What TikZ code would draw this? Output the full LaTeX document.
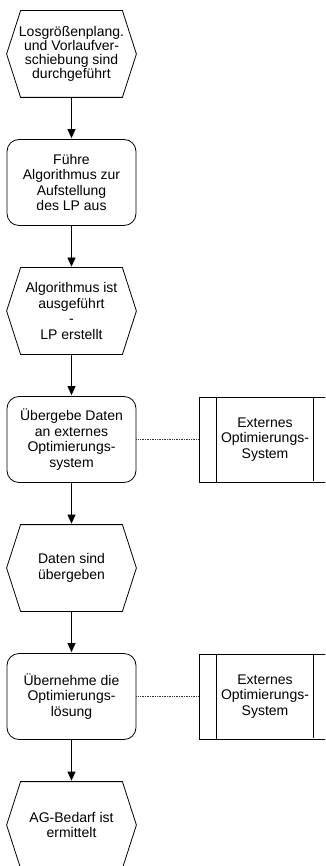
\documentclass[tikz,border=0pt]{standalone}
\usepackage{fontspec}
\setmainfont{Liberation Sans}
\usetikzlibrary{
        arrows.meta,
        positioning
    }
\tikzset{>={Triangle[length=9pt,width=8pt]},shorten >=1pt,auto,node distance=128.5pt}

\begin{document}
\begin{tikzpicture}[x=1pt,y=-1pt,line width=0.8pt,
        every node/.style={font=\fontsize{14}{15.5}\selectfont,align=center}]
                \tikzset{event/.style={rectangle,minimum width=129pt,minimum height=86pt,inner sep=0pt}}
                \tikzset{function/.style={draw,rectangle,rounded corners=12pt,minimum width=129pt,minimum height=86pt,inner sep=0pt}}
                \tikzset{system/.style={draw,rectangle,minimum width=132pt,minimum height=85pt,inner sep=0pt}}
                \tikzset{link/.style={dash pattern=on 1pt off 0.7pt,black!80,shorten >=0pt}}
                \clip (0,0) rectangle (325,866);
                \node[event,font=\fontsize{14}{14}\selectfont] (e1) at (71.5,54) {Losgrößenplang.\\und Vorlaufver-\\schiebung sind\\durchgeführt};
                \node[function] (f1) [below of=e1] {Führe\\Algorithmus zur\\Aufstellung\\des LP aus};
                \node[event] (e2) [below of=f1] {Algorithmus ist\\ausgeführt\\-\\LP erstellt};
                \node[function] (f2) [below of=e2] {Übergebe Daten\\an externes\\Optimierungs-\\system};
                \node[system] (x1) [right of=f2,node distance=193.5pt] {Externes\\Optimierungs-\\System};
                \node[event] (e3) [below of=f2] {Daten sind\\übergeben};
                \node[function] (f3) [below of=e3] {Übernehme die\\Optimierungs-\\lösung};
                \node[system] (x2) [right of=f3,node distance=193.5pt] {Externes\\Optimierungs-\\System};
                \node[event] (e4) [below of=f3] {AG-Bedarf ist\\ermittelt};
                % event hexagons
                \foreach \n in {e1,e2,e3,e4}
                    \draw ([xshift=14pt]\n.north west) -- ([xshift=-14pt]\n.north east) -- (\n.east)
                        -- ([xshift=-14pt]\n.south east) -- ([xshift=14pt]\n.south west) -- (\n.west) -- cycle;
                % side bars of the systems
                \foreach \n in {x1,x2}
                    \draw ([xshift=18pt]\n.north west) -- ([xshift=18pt]\n.south west)
                          ([xshift=-18pt]\n.north east) -- ([xshift=-18pt]\n.south east);
                \path[->]
                    (e1)  edge  (f1)
                    (f1)  edge  (e2)
                    (e2)  edge  (f2)
                    (f2)  edge  (e3)
                    (e3)  edge  (f3)
                    (f3)  edge  (e4)
                ;
                \path
                    (f2)  edge[link]  (x1)
                    (f3)  edge[link]  (x2)
                ;
            \end{tikzpicture}
\end{document}
